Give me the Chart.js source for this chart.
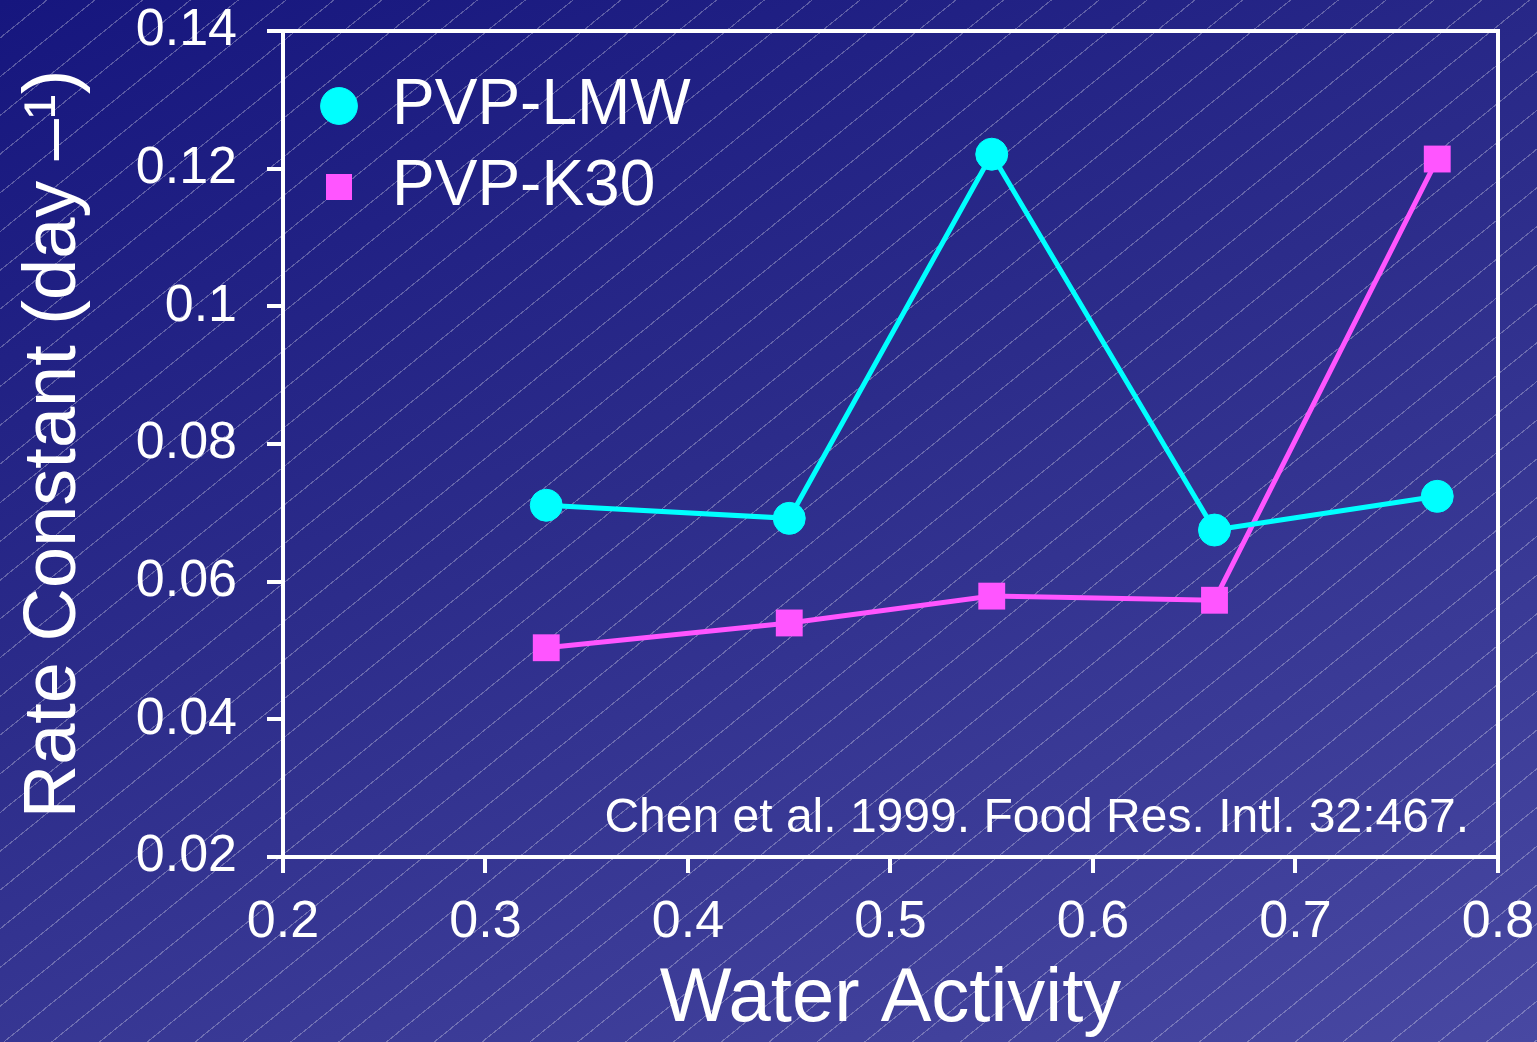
<!DOCTYPE html>
<html>
<head>
<meta charset="utf-8">
<script src="https://cdn.jsdelivr.net/npm/chart.js@4"></script>
<style>
  html, body { margin: 0; padding: 0; }
  body {
    width: 1537px; height: 1042px; overflow: hidden;
    background:
      repeating-linear-gradient(141deg, rgba(255,255,255,0) 0px, rgba(255,255,255,0) 29px, rgba(255,255,255,0.28) 29px, rgba(255,255,255,0.28) 30.1px),
      linear-gradient(160deg, #16167e 0%, #2c2c8a 45%, #4848a2 100%);
  }
  canvas { display: block; }
</style>
</head>
<body>
<canvas id="c" width="1537" height="1042"></canvas>
<script>
// ---- data ----
const waterActivity = [0.33, 0.45, 0.55, 0.66, 0.77];
const pvpLMW = [0.0711, 0.0692, 0.1221, 0.0675, 0.0724];
const pvpK30 = [0.0504, 0.0540, 0.0579, 0.0573, 0.1214];
const seriesNames = ['PVP-LMW', 'PVP-K30'];
const xTickValues = [0.2, 0.3, 0.4, 0.5, 0.6, 0.7, 0.8];
const xTickLabels = ['0.2', '0.3', '0.4', '0.5', '0.6', '0.7', '0.8'];
const yTickValues = [0.02, 0.04, 0.06, 0.08, 0.1, 0.12, 0.14];
const yTickLabels = ['0.02', '0.04', '0.06', '0.08', '0.1', '0.12', '0.14'];
const xTitle = 'Water Activity';
const yTitle = 'Rate Constant (day \u2013\u00B9)';
const citation = 'Chen et al. 1999. Food Res. Intl. 32:467.';

const FONT = "'Liberation Sans', Arial, sans-serif";
const CYAN = '#00ffff';
const MAGENTA = '#ff55ff';

const frame = {
  id: 'frame',
  afterLayout(chart) {
    const a = chart.chartArea;
    const lg = chart.legend;
    if (lg) {
      const w = lg.width, h = lg.height;
      lg.left = a.left + 18; lg.top = a.top + 26;
      lg.right = lg.left + w; lg.bottom = lg.top + h;
    }
  },
  beforeDatasetsDraw(chart) {
    const ctx = chart.ctx, a = chart.chartArea;
    ctx.save();
    ctx.strokeStyle = '#ffffff';
    ctx.lineWidth = 4;
    ctx.strokeRect(a.left, a.top, a.right - a.left, a.bottom - a.top);
    ctx.fillStyle = '#ffffff';
    ctx.font = '48px ' + FONT;
    ctx.textAlign = 'right';
    ctx.textBaseline = 'alphabetic';
    ctx.fillText(citation, a.right - 29, a.bottom - 25);
    ctx.restore();
  }
};

new Chart(document.getElementById('c'), {
  type: 'line',
  data: {
    datasets: [
      {
        label: seriesNames[0],
        data: waterActivity.map((x, i) => ({ x, y: pvpLMW[i] })),
        borderColor: CYAN,
        backgroundColor: CYAN,
        pointBackgroundColor: CYAN,
        pointBorderColor: CYAN,
        pointStyle: 'circle',
        pointRadius: 16,
        pointBorderWidth: 1,
        borderWidth: 5,
        tension: 0
      },
      {
        label: seriesNames[1],
        data: waterActivity.map((x, i) => ({ x, y: pvpK30[i] })),
        borderColor: MAGENTA,
        backgroundColor: MAGENTA,
        pointBackgroundColor: MAGENTA,
        pointBorderColor: MAGENTA,
        pointStyle: 'rect',
        pointRadius: 19,
        pointBorderWidth: 0,
        borderWidth: 5,
        tension: 0
      }
    ]
  },
  options: {
    responsive: false,
    animation: false,
    devicePixelRatio: 1,
    layout: { padding: { top: 31, right: 39, left: 0, bottom: 0 } },
    plugins: {
      tooltip: { enabled: false },
      legend: {
        position: 'chartArea',
        align: 'start',
        labels: {
          color: '#ffffff',
          font: { family: FONT, size: 64 },
          usePointStyle: true,
          boxWidth: 42,
          boxHeight: 26,
          padding: 17
        }
      }
    },
    scales: {
      x: {
        type: 'linear',
        min: 0.2, max: 0.8,
        afterBuildTicks: s => { s.ticks = xTickValues.map(v => ({ value: v })); },
        afterFit: s => { s.height = 185; s.paddingLeft = 0; s.paddingRight = 0; },
        border: { display: true, color: '#ffffff', width: 4 },
        grid: { drawOnChartArea: false, drawTicks: true, tickLength: 16, color: '#ffffff', lineWidth: 4 },
        ticks: {
          color: '#ffffff', font: { family: FONT, size: 52 }, padding: 18, maxRotation: 0,
          callback: (v, i) => xTickLabels[i]
        },
        title: { display: true, text: xTitle, color: '#ffffff', font: { family: FONT, size: 76, lineHeight: 1.1 }, padding: { top: 0, bottom: 0 } }
      },
      y: {
        type: 'linear',
        min: 0.02, max: 0.14,
        afterBuildTicks: s => { s.ticks = yTickValues.map(v => ({ value: v })); },
        afterFit: s => { s.width = 283; s.paddingTop = 0; s.paddingBottom = 0; },
        border: { display: true, color: '#ffffff', width: 4 },
        grid: { drawOnChartArea: false, drawTicks: true, tickLength: 16, color: '#ffffff', lineWidth: 4 },
        ticks: {
          color: '#ffffff', font: { family: FONT, size: 52 }, padding: 30,
          callback: (v, i) => yTickLabels[i]
        },
        title: { display: true, text: yTitle, color: '#ffffff', font: { family: FONT, size: 74 }, padding: { top: 10, bottom: 0 } }
      }
    }
  },
  plugins: [frame]
});
</script>
</body>
</html>
